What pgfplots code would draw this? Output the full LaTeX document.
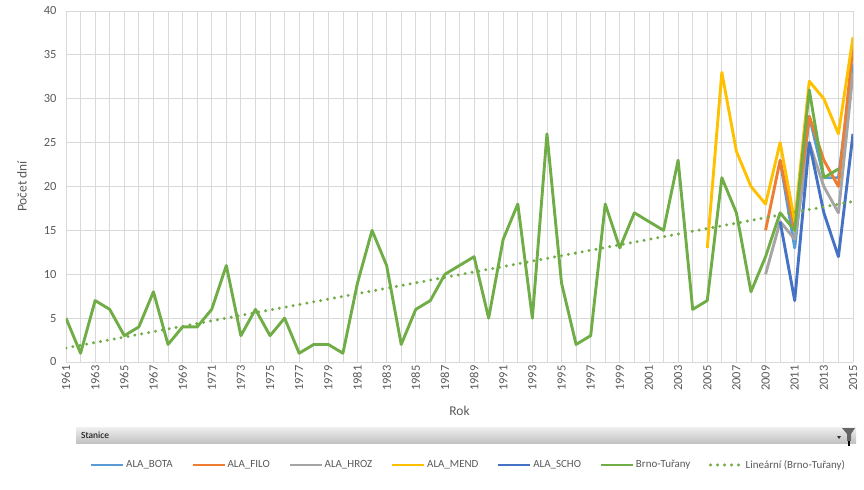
\documentclass[border=0pt]{standalone}
\usepackage{fontspec}
\setmainfont{Carlito}
\usepackage{pgfplots}
\pgfplotsset{compat=1.18}
\usepackage{pgfplotstable}
\definecolor{cBota}{HTML}{5B9BD5}
\definecolor{cFilo}{HTML}{ED7D31}
\definecolor{cHroz}{HTML}{A5A5A5}
\definecolor{cMend}{HTML}{FFC000}
\definecolor{cScho}{HTML}{4472C4}
\definecolor{cBrno}{HTML}{70AD47}
\definecolor{cGrid}{HTML}{D9D9D9}
\definecolor{cText}{HTML}{595959}

% Brno-Tuřany, pocet dni 1961--2014
\pgfplotstableread{
rok dni
1961 5
1962 1
1963 7
1964 6
1965 3
1966 4
1967 8
1968 2
1969 4
1970 4
1971 6
1972 11
1973 3
1974 6
1975 3
1976 5
1977 1
1978 2
1979 2
1980 1
1981 9
1982 15
1983 11
1984 2
1985 6
1986 7
1987 10
1988 11
1989 12
1990 5
1991 14
1992 18
1993 5
1994 26
1995 9
1996 2
1997 3
1998 18
1999 13
2000 17
2001 16
2002 15
2003 23
2004 6
2005 7
2006 21
2007 17
2008 8
2009 12
2010 17
2011 15
2012 31
2013 21
2014 22
}\brno

\begin{document}
\begin{tikzpicture}
\path[use as bounding box] (-66bp,-128bp) rectangle (798bp,362bp);
\begin{axis}[
  scale only axis,
  width=787bp, height=351bp,
  xmin=1961, xmax=2015,
  ymin=0, ymax=40,
  xtick={1961,1963,...,2015},
  minor xtick={1962,1964,...,2014},
  ytick={0,5,...,40},
  grid=both,
  major grid style={cGrid, line width=0.8bp},
  minor grid style={cGrid, line width=0.8bp},
  axis line style={draw=none},
  tick style={draw=none},
  /pgf/number format/.cd, 1000 sep={}, assume math mode=true, /pgfplots/.cd,
  ticklabel style={font=\fontsize{12.5}{14}\selectfont, text=cText},
  xticklabel style={rotate=90, anchor=east},
  yticklabel style={xshift=-6bp},
  xlabel={Rok},
  ylabel={Počet dní},
  label style={font=\fontsize{13.5}{15}\selectfont, text=cText},
  xlabel style={at={(axis description cs:0.5,-0.1396)}, anchor=center},
  ylabel style={at={(axis description cs:-0.0559,0.5)}, anchor=center},
  legend columns=7,
  legend style={at={(axis description cs:0.511,-0.2934)}, anchor=center,
    draw=none, fill=none, font=\fontsize{11}{13}\selectfont, text=cText,
    /tikz/every even column/.append style={column sep=17bp},
    nodes={inner xsep=1.5bp}},
  legend image code/.code={\draw[#1] (0bp,0bp) -- (32bp,0bp);},
  every axis plot/.append style={line width=2.9bp, line join=round},
]
\addplot[cBota] coordinates {(2010,23) (2011,13) (2012,28) (2013,21) (2014,21) (2015,34)};
\addlegendentry{ALA\_BOTA}
\addplot[cFilo] coordinates {(2009,15) (2010,23) (2011,15) (2012,28) (2013,23) (2014,20) (2015,36)};
\addlegendentry{ALA\_FILO}
\addplot[cHroz] coordinates {(2009,10) (2010,16) (2011,14) (2012,25) (2013,20) (2014,17) (2015,33)};
\addlegendentry{ALA\_HROZ}
\addplot[cMend] coordinates {(2005,13) (2006,33) (2007,24) (2008,20) (2009,18) (2010,25) (2011,16) (2012,32) (2013,30) (2014,26) (2015,37)};
\addlegendentry{ALA\_MEND}
\addplot[cScho] coordinates {(2010,16) (2011,7) (2012,25) (2013,17) (2014,12) (2015,26)};
\addlegendentry{ALA\_SCHO}
\addplot[cBrno] table[x=rok, y=dni] {\brno};
\addlegendentry{Brno-Tuřany}
\addplot[cBrno, line cap=round, dash pattern=on 0bp off 7bp, line width=3.3bp] coordinates {(1961,1.6) (2015,18.3)};
\addlegendentry{Lineární (Brno-Tuřany)}
\end{axis}
% filtr Stanice
\shade[top color=black!6, bottom color=black!24] (10bp,-65bp) rectangle (790bp,-81bp);
\node[anchor=west, inner sep=0pt, font=\fontsize{9.5}{11}\selectfont] at (15bp,-73bp) {Stanice};
\fill[black!60] (776bp,-66bp) -- (789bp,-66bp) -- (785bp,-72bp) -- (785bp,-79bp) -- (781bp,-79bp) -- (781bp,-72bp) -- cycle;
\fill[black] (782bp,-79bp) rectangle (784bp,-84bp);
\fill[black!80] (771bp,-74bp) -- (775bp,-74bp) -- (773bp,-77bp) -- cycle;
\end{tikzpicture}
\end{document}
